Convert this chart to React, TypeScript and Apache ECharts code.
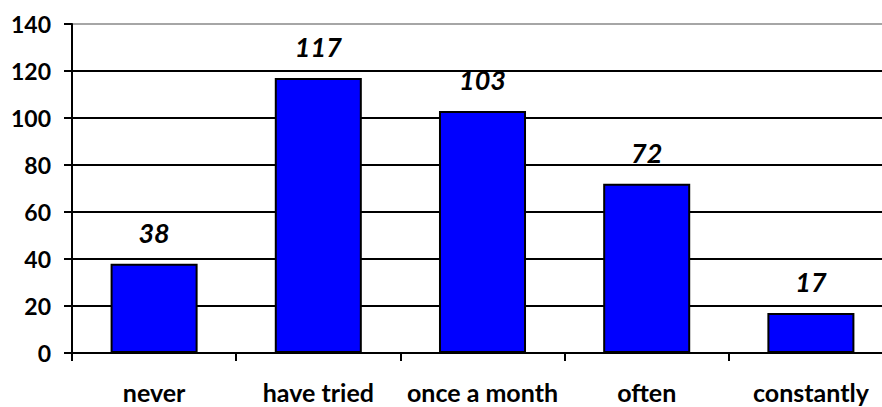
import React, { useEffect, useRef } from "react";
import * as echarts from "echarts";

const categories = ["never", "have tried", "once a month", "often", "constantly"];
const values = [38, 117, 103, 72, 17];
const yTicks = { min: 0, max: 140, interval: 20 };

export default function App() {
  const ref = useRef<HTMLDivElement>(null);
  useEffect(() => {
    const chart = echarts.init(ref.current!, null, { renderer: "svg" });
    const font = "Lato, 'Open Sans', sans-serif";
    chart.setOption({
      animation: false,
      backgroundColor: "#fff",
      grid: { left: 72, top: 24, width: 821, height: 329 },
      xAxis: {
        type: "category",
        data: categories,
        boundaryGap: true,
        axisLine: { lineStyle: { color: "#000", width: 2 } },
        axisTick: { show: true, length: 8, lineStyle: { color: "#000", width: 2 } },
        axisLabel: {
          color: "#000",
          fontFamily: font,
          fontWeight: "bold",
          fontSize: 25,
          margin: 26,
          interval: 0,
        },
        splitLine: { show: false },
      },
      yAxis: {
        type: "value",
        min: yTicks.min,
        max: yTicks.max,
        interval: yTicks.interval,
        axisLine: { show: true, lineStyle: { color: "#000", width: 2 } },
        axisTick: { show: true, length: 8, lineStyle: { color: "#000", width: 2 } },
        axisLabel: {
          color: "#000",
          fontFamily: font,
          fontWeight: "bold",
          fontSize: 23,
          margin: 21,
        },
        splitLine: {
          show: true,
          lineStyle: {
            width: 2,
            color: ["#000", "#000", "#000", "#000", "#000", "#000", "#000", "#a6a6a6"],
          },
        },
      },
      series: [
        {
          type: "bar",
          data: values,
          barWidth: "53%",
          itemStyle: { color: "#0000ff", borderColor: "#000", borderWidth: 2 },
          label: {
            show: true,
            position: "top",
            distance: 18,
            color: "#000",
            fontFamily: font,
            fontWeight: "bold",
            fontStyle: "italic",
            fontSize: 27,
          },
        },
      ],
    });
    return () => chart.dispose();
  }, []);
  return (
    <div
      style={{
        position: "absolute",
        left: 0,
        top: 0,
        width: 882,
        height: 407,
        overflow: "hidden",
        background: "#fff",
      }}
    >
      <div ref={ref} style={{ width: 900, height: 407 }} />
    </div>
  );
}
